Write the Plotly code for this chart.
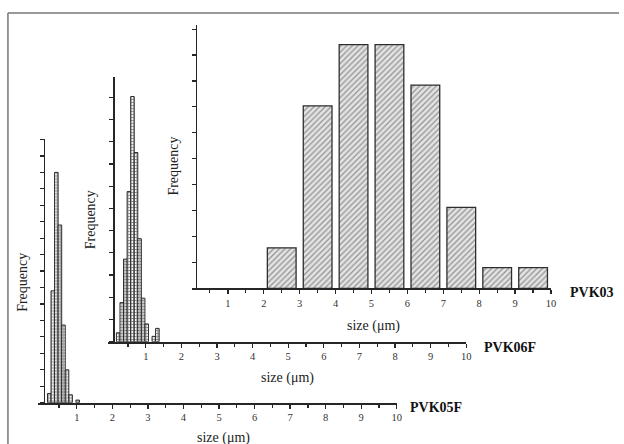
import plotly.graph_objects as go

W, H = 624, 444

# ---------------- data (frequency in %) ----------------
pvk03_x = [2.5, 3.5, 4.5, 5.5, 6.5, 7.5, 8.5, 9.5]
pvk03_f = [3.9, 17.6, 23.5, 23.5, 19.6, 7.8, 2.0, 2.0]

pvk06_x = [0.225, 0.325, 0.425, 0.525, 0.625, 0.725, 0.825, 0.925, 1.025, 1.225, 1.325]
pvk06_f = [1.0, 4.4, 9.3, 16.9, 27.6, 21.3, 11.6, 4.9, 2.0, 0.6, 1.5]

pvk05_x = [0.225, 0.325, 0.425, 0.525, 0.625, 0.725, 0.825, 1.025]
pvk05_f = [1.4, 17.0, 35.0, 27.0, 11.8, 5.0, 1.2, 0.4]

x_ticks = [1, 2, 3, 4, 5, 6, 7, 8, 9, 10]
x_minor = [0.5, 1.5, 2.5, 3.5, 4.5, 5.5, 6.5, 7.5, 8.5, 9.5]
sample_names = ["PVK03", "PVK06F", "PVK05F"]
x_title = "size (μm)"
y_title = "Frequency"

SERIF = "Liberation Serif"
DARK = "#262626"


def px(x):
    return x / W


def py(y):
    return 1 - y / H


fig = go.Figure()

fig.add_trace(go.Bar(
    x=pvk03_x, y=pvk03_f, width=0.8, xaxis="x", yaxis="y",
    marker=dict(color="#e4e4e4", line=dict(color="#2e2e2e", width=1.3),
                pattern=dict(shape="/", fgcolor="#444444", bgcolor="#e3e3e3",
                             size=4, solidity=0.32)),
    showlegend=False))

grid_marker = dict(color="#dddddd", line=dict(color="#2a2a2a", width=1.0),
                   pattern=dict(shape="+", fgcolor="#333333", bgcolor="#f4f4f4",
                                size=3, solidity=0.55))

fig.add_trace(go.Bar(x=pvk06_x, y=pvk06_f, width=0.1, xaxis="x2", yaxis="y2",
                     marker=grid_marker, showlegend=False))

fig.add_trace(go.Bar(x=pvk05_x, y=pvk05_f, width=0.1, xaxis="x3", yaxis="y3",
                     marker=grid_marker, showlegend=False))


def xaxis_cfg(domain_px, rng, anchor):
    return dict(
        domain=[px(domain_px[0]), px(domain_px[1])], range=rng, anchor=anchor,
        showline=True, linecolor=DARK, linewidth=2, showgrid=False, zeroline=False,
        tickmode="array", tickvals=x_ticks, ticks="outside", ticklen=4,
        tickwidth=1.3, tickcolor=DARK,
        tickfont=dict(family=SERIF, size=10.5, color="#333333"),
        minor=dict(tickvals=x_minor, ticks="outside", ticklen=3, tickwidth=1.2,
                   tickcolor=DARK, showgrid=False),
        fixedrange=True,
    )


def yaxis_cfg(domain_px, top, pos_px):
    n = int(top // 2.5)
    return dict(
        domain=[py(domain_px[0]), py(domain_px[1])], range=[0, top],
        anchor="free", position=px(pos_px),
        showline=True, linecolor=DARK, linewidth=1.5, showgrid=False, zeroline=False,
        tickmode="array", tickvals=[2.5 * i for i in range(n + 1)],
        ticks="outside", ticklen=4, tickwidth=1.2, tickcolor=DARK,
        showticklabels=False, fixedrange=True,
    )


fig.update_layout(
    width=W, height=H, margin=dict(l=0, r=0, t=0, b=0),
    paper_bgcolor="white", plot_bgcolor="rgba(0,0,0,0)",
    bargap=0,
    xaxis=xaxis_cfg((193.5, 555.5), [0, 10], "y"),
    yaxis=yaxis_cfg((288.3, 25), 25.4, 197.3),
    xaxis2=xaxis_cfg((109.3, 470), [-0.05, 10], "y2"),
    yaxis2=yaxis_cfg((341.7, 77), 29.8, 114),
    xaxis3=xaxis_cfg((38, 400), [-0.1, 10], "y3"),
    yaxis3=yaxis_cfg((402.7, 138.5), 40.15, 44),
)

ann = []
for (cx, cy) in [(377, 326), (290, 378), (225, 438)]:
    ann.append(dict(x=px(cx), y=py(cy), xref="paper", yref="paper", text=x_title,
                    showarrow=False, xanchor="center", yanchor="middle",
                    font=dict(family=SERIF, size=14, color="#222222")))
for (cx, cy) in [(175, 166), (91, 220), (22, 282)]:
    ann.append(dict(x=px(cx), y=py(cy), xref="paper", yref="paper", text=y_title,
                    textangle=-90, showarrow=False, xanchor="center", yanchor="middle",
                    font=dict(family=SERIF, size=14, color="#222222")))
for name, (lx, cy) in zip(sample_names, [(573, 292), (486, 347), (411, 407)]):
    ann.append(dict(x=px(lx), y=py(cy), xref="paper", yref="paper",
                    text="<b>" + name + "</b>", showarrow=False,
                    xanchor="left", yanchor="middle",
                    font=dict(family=SERIF, size=14, color="#111111")))
fig.update_layout(annotations=ann)

# outer frame (top and left)
fig.add_shape(type="line", xref="paper", yref="paper",
              x0=px(8), y0=py(13), x1=1, y1=py(13),
              line=dict(color="#777777", width=1.5))
fig.add_shape(type="line", xref="paper", yref="paper",
              x0=px(8), y0=py(13), x1=px(8), y1=0,
              line=dict(color="#777777", width=1.5))

fig.write_html(
    "out.html",
    config={"displayModeBar": False, "staticPlot": True},
    post_script=("document.body.style.margin='0';"
                 "document.body.style.overflow='hidden';"
                 "document.documentElement.style.overflow='hidden';"),
)
